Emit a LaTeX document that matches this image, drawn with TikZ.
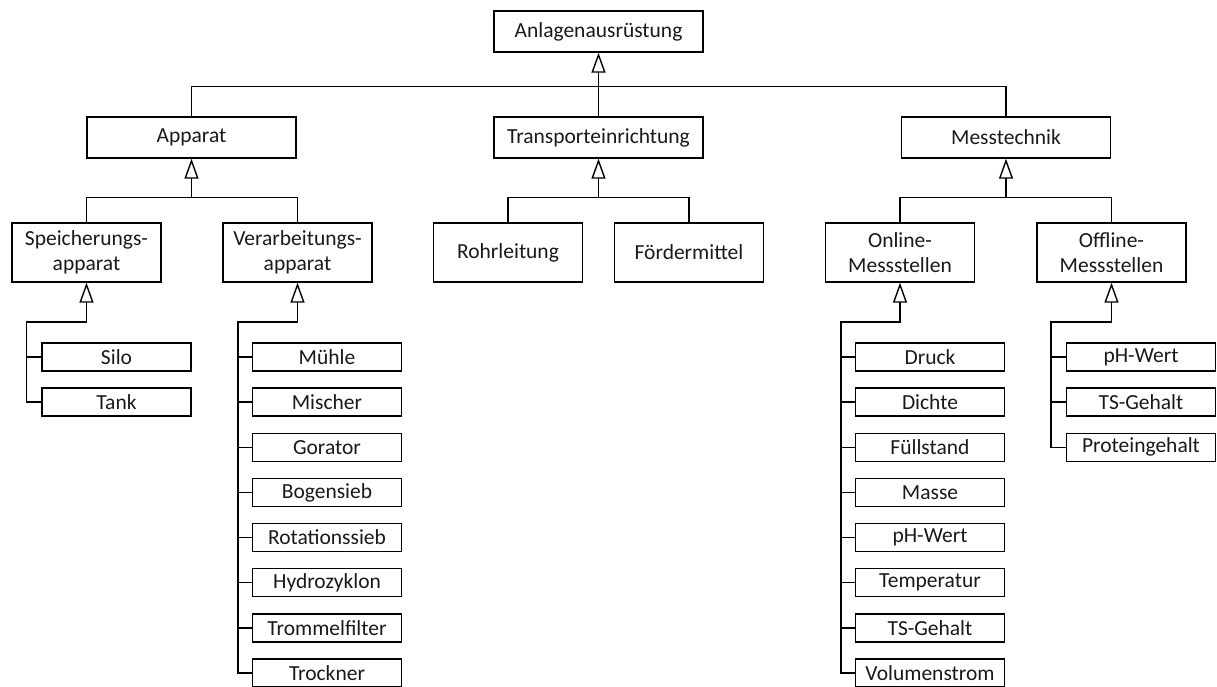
\documentclass[tikz,border=0pt]{standalone}
\usepackage{fontspec}
\setmainfont{Carlito}
\usetikzlibrary{arrows.meta}
\begin{document}
\begin{tikzpicture}[x=1pt,y=-1pt,
  every node/.style={font=\fontsize{21.5}{25}\selectfont, text=black!90, inner sep=0pt},
  box/.style={draw, line width=1.4pt, align=center},
  topbox/.style={box, minimum width=209pt, minimum height=41pt},
  midbox/.style={box, minimum width=149pt, minimum height=59pt},
  leaf/.style={box, minimum width=149pt, minimum height=28pt},
  link/.style={line width=1.4pt},
  gen/.style={link, -{Triangle[open, length=20pt, width=14pt, line width=1.4pt]}}
]
\useasboundingbox (0,0) rectangle (1217,686);
\clip (0,0) rectangle (1217,686);

% top level
\node[topbox] (root) at (598.5,31.5) {Anlagenausrüstung};
\node[topbox] (app) at (191.5,137.5) {Apparat};
\node[topbox] (tra) at (598.5,137.5) {Transporteinrichtung};
\node[topbox] (mes) at (1006,137.5) {Messtechnik};

\draw[link] (app.north) -- ++(0,-30) -| (mes.north);
\draw[gen] (tra.north) -- (root.south);

% second level
\node[midbox] (spa) at (86.5,252.5) {Speicherungs-\\apparat};
\node[midbox] (vea) at (297.5,252.5) {Verarbeitungs-\\apparat};
\node[midbox] (roh) at (508,252.5) {Rohrleitung};
\node[midbox] (foe) at (689,252.5) {Fördermittel};
\node[midbox] (onl) at (900,252.5) {Online-\\Messstellen};
\node[midbox] (off) at (1111.5,252.5) {Offline-\\Messstellen};

\coordinate (ja) at (191.5,197);
\coordinate (jt) at (598.5,197);
\coordinate (jm) at (1006,197);
\draw[link] (spa.north) -- ++(0,-25) -| (vea.north);
\draw[gen] (ja) -- (app.south);
\draw[link] (roh.north) -- ++(0,-25) -| (foe.north);
\draw[gen] (jt) -- (tra.south);
\draw[link] (onl.north) -- ++(0,-25) -| (off.north);
\draw[gen] (jm) -- (mes.south);

% leaf lists
\coordinate (js) at (86.5,322);
\coordinate (jv) at (297.5,322);
\coordinate (jo) at (900,322);
\coordinate (jf) at (1111.5,322);

% Speicherungsapparat
\node[leaf] (silo) at (116.5,357) {Silo};
\node[leaf] (tank) at (116.5,402) {Tank};
\draw[gen] (tank.west) -- ++(-15,0) |- (js) -- (spa.south);
\draw[link] (silo.west) -- ++(-15,0);

% Verarbeitungsapparat
\foreach \n/\t [count=\i from 0] in {v1/Mühle, v2/Mischer, v3/Gorator, v4/Bogensieb, v5/Rotationssieb, v6/Hydrozyklon, v7/Trommelfilter, v8/Trockner}{
  \node[leaf] (\n) at (327,357+45.15*\i) {\t};
}
\draw[gen] (v8.west) -- ++(-14,0) |- (jv) -- (vea.south);
\foreach \n in {v1,v2,v3,v4,v5,v6,v7}{\draw[link] (\n.west) -- ++(-14,0);}

% Online-Messstellen
\foreach \n/\t [count=\i from 0] in {o1/Druck, o2/Dichte, o3/Füllstand, o4/Masse, o5/pH-Wert, o6/Temperatur, o7/TS-Gehalt, o8/Volumenstrom}{
  \node[leaf] (\n) at (930,357+45.15*\i) {\t};
}
\draw[gen] (o8.west) -- ++(-14,0) |- (jo) -- (onl.south);
\foreach \n in {o1,o2,o3,o4,o5,o6,o7}{\draw[link] (\n.west) -- ++(-14,0);}

% Offline-Messstellen
\foreach \n/\t [count=\i from 0] in {f1/pH-Wert, f2/TS-Gehalt, f3/Proteingehalt}{
  \node[leaf] (\n) at (1141,357+45.15*\i) {\t};
}
\draw[gen] (f3.west) -- ++(-15,0) |- (jf) -- (off.south);
\foreach \n in {f1,f2}{\draw[link] (\n.west) -- ++(-15,0);}
\end{tikzpicture}
\end{document}
